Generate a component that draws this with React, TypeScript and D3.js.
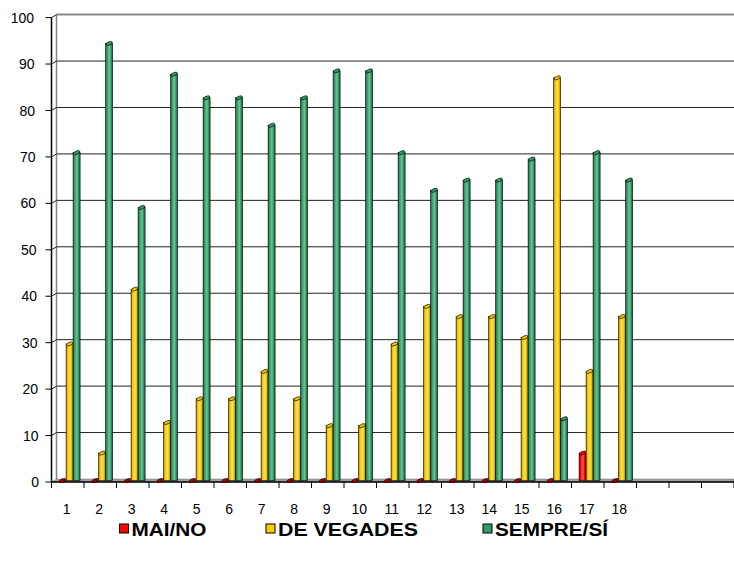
import React from "react";
import * as d3 from "d3";

const categories = ["1", "2", "3", "4", "5", "6", "7", "8", "9", "10", "11", "12", "13", "14", "15", "16", "17", "18"];
const emptySlots = 3;
const maiNo = [0, 0, 0, 0, 0, 0, 0, 0, 0, 0, 0, 0, 0, 0, 0, 0, 5.9, 0];
const deVegades = [29.4, 5.9, 41.2, 12.5, 17.6, 17.6, 23.5, 17.6, 11.8, 11.8, 29.4, 37.5, 35.3, 35.3, 30.8, 86.7, 23.5, 35.3];
const sempreSi = [70.6, 94.1, 58.8, 87.5, 82.4, 82.4, 76.5, 82.4, 88.2, 88.2, 70.6, 62.5, 64.7, 64.7, 69.2, 13.3, 70.6, 64.7];
const yTicks = [0, 10, 20, 30, 40, 50, 60, 70, 80, 90, 100];

const series = [
  { name: "MAI/NO", values: maiNo, color: "#ff0000", dark: "#b00000", light: "#ff6060", key: "#ff0000" },
  { name: "DE VEGADES", values: deVegades, color: "#f2c400", dark: "#a88800", light: "#ffe060", key: "#ffcc00" },
  { name: "SEMPRE/SÍ", values: sempreSi, color: "#339966", dark: "#1f6040", light: "#6cc596", key: "#339966" },
];

const App: React.FC = () => {
  const width = 734;
  const height = 562;
  const left = 51.5;
  const right = 734;
  const floorY = 482;
  const topY = 17.6;
  const dx = 5; // profundidad 3D
  const dy = 3;

  const slots = d3.range(categories.length + emptySlots);
  const x = d3.scaleBand<number>().domain(slots).range([left, right]);
  const yFront = d3.scaleLinear().domain([0, 100]).range([floorY, topY]);
  const yBack = (v: number) => yFront(v) - dy;
  const yMid = (v: number) => yFront(v) - 1.5;

  const barW = 7;
  const barOffset = 7.6;

  // leyenda: posición del cuadro y ancho del texto
  const legendX = [119.5, 266, 483];
  const legendW = [75, 140, 113];

  return (
    <svg width={width} height={height} style={{ position: "absolute", left: 0, top: 0 }} fontFamily="Arial, 'Liberation Sans', sans-serif">
      <defs>
        {series.map((s, i) => (
          <linearGradient key={i} id={`g${i}`} x1="0" x2="1" y1="0" y2="0">
            <stop offset="0" stopColor={s.dark} />
            <stop offset="0.2" stopColor={s.color} />
            <stop offset="0.55" stopColor={s.light} />
            <stop offset="0.75" stopColor={s.color} />
            <stop offset="1" stopColor={s.dark} />
          </linearGradient>
        ))}
      </defs>

      {/* Pared del fondo */}
      <line x1={left + dx} x2={right} y1={yBack(100)} y2={yBack(100)} stroke="#888" strokeWidth={2} />
      <line x1={left + dx} x2={left + dx} y1={yBack(100)} y2={yBack(0)} stroke="#888" strokeWidth={1.5} />
      {yTicks.filter((t) => t > 0 && t < 100).map((t) => (
        <g key={t}>
          <line x1={left + dx} x2={right} y1={yBack(t)} y2={yBack(t)} stroke="#222" strokeWidth={1} />
          <line x1={left} x2={left + dx} y1={yFront(t)} y2={yBack(t)} stroke="#222" strokeWidth={1} />
        </g>
      ))}
      <line x1={left} x2={left + dx} y1={yFront(100)} y2={yBack(100)} stroke="#222" strokeWidth={1} />

      {/* Suelo */}
      <polygon
        points={`${left + dx},${yBack(0)} ${right},${yBack(0)} ${right},${floorY} ${left},${floorY}`}
        fill="#a0a0a0"
        stroke="#777"
        strokeWidth={0.5}
      />
      <line x1={left} x2={right} y1={floorY} y2={floorY} stroke="#000" strokeWidth={1.5} />

      {/* Eje Y */}
      <line x1={left} x2={left} y1={yFront(100)} y2={floorY} stroke="#000" strokeWidth={1.5} />
      {yTicks.map((t) => (
        <g key={t}>
          <line x1={left - 6} x2={left} y1={yFront(t)} y2={yFront(t)} stroke="#000" strokeWidth={1} />
          <text x={39 - (t / 100) * 5} y={yFront(t)} dy="0.36em" textAnchor="end" fontSize={14} fill="#000">
            {t}
          </text>
        </g>
      ))}

      {/* Eje X */}
      {[...slots, slots.length].map((i) => {
        const px = i < slots.length ? x(i) ?? 0 : right;
        return <line key={i} x1={px} x2={px} y1={floorY} y2={floorY + 6} stroke="#000" strokeWidth={1} />;
      })}
      {categories.map((c, i) => (
        <text key={c} x={(x(i) ?? 0) + x.bandwidth() / 2 - 1} y={514} textAnchor="middle" fontSize={14} fill="#000">
          {c}
        </text>
      ))}

      {/* Barras cilíndricas */}
      {categories.map((c, i) =>
        series.map((s, j) => {
          const v = s.values[i];
          const bx = (x(i) ?? 0) + barOffset + j * barW;
          const cx = bx + barW / 2;
          const base = yMid(0);
          const top = yMid(v);
          return (
            <g key={`${c}-${j}`}>
              {v > 0 && (
                <rect x={bx} y={top} width={barW} height={base - top} fill={`url(#g${j})`} stroke="#000" strokeWidth={0.6} />
              )}
              <ellipse
                cx={cx}
                cy={top}
                rx={barW / 2}
                ry={1.6}
                transform={`rotate(-22 ${cx} ${top})`}
                fill={v > 0 ? s.color : s.dark}
                stroke="#000"
                strokeWidth={0.6}
              />
            </g>
          );
        })
      )}

      {/* Leyenda */}
      {series.map((s, i) => (
        <g key={s.name}>
          <rect x={legendX[i]} y={524} width={9} height={9} fill={s.key} stroke="#000" strokeWidth={1} />
          <text
            x={legendX[i] + 12}
            y={535.5}
            fontSize={19}
            fontWeight="bold"
            fill="#000"
            textLength={legendW[i]}
            lengthAdjust="spacingAndGlyphs"
          >
            {s.name}
          </text>
        </g>
      ))}
    </svg>
  );
};

export default App;
